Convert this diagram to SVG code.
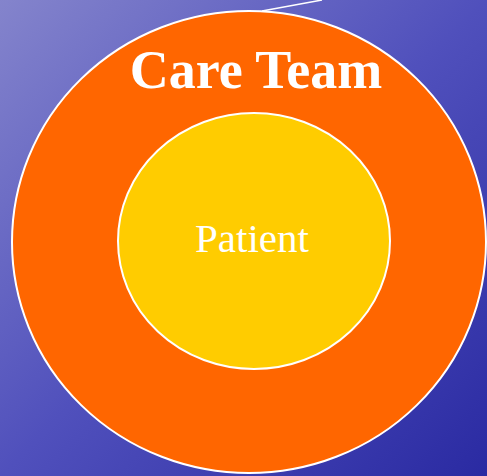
<svg xmlns="http://www.w3.org/2000/svg" width="487" height="476" viewBox="0 0 487 476">
<defs>
<linearGradient id="bg" x1="0" y1="0" x2="1" y2="1">
<stop offset="0" stop-color="#8484cc"/>
<stop offset="0.5" stop-color="#5050bc"/>
<stop offset="1" stop-color="#2a2aa2"/>
</linearGradient>
<style>
.ring{stroke:#ffffff;stroke-width:2}
.lbl{font-family:"Liberation Serif","Times New Roman",serif;fill:#ffffff;text-anchor:middle}
</style>
</defs>
<rect width="487" height="476" fill="url(#bg)"/>
<g id="connectors">
<line x1="262" y1="11" x2="322" y2="0" stroke="#ffffff" stroke-width="1.5"/>
</g>
<g id="care-team">
<ellipse class="ring" cx="249" cy="242" rx="237" ry="231" fill="#ff6600"/>
<text class="lbl" x="256" y="88" font-size="54" font-weight="bold">Care Team</text>
</g>
<g id="patient">
<ellipse class="ring" cx="254" cy="241" rx="136" ry="128" fill="#ffcc00"/>
<text class="lbl" x="252" y="252" font-size="41">Patient</text>
</g>
</svg>
